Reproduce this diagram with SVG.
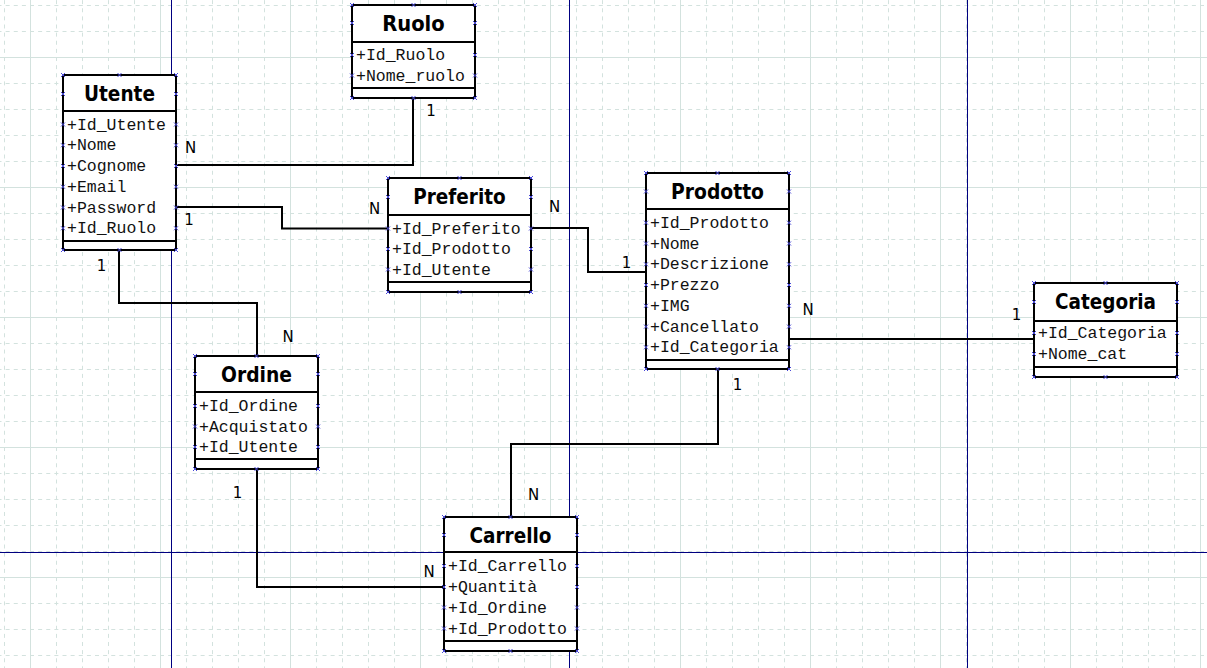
<svg xmlns="http://www.w3.org/2000/svg" width="1207" height="668" viewBox="0 0 1207 668">
<style>
.box{fill:#fff;stroke:#000;stroke-width:2}
.sep{stroke:#000;stroke-width:2;fill:none}
.title{font-family:"DejaVu Sans","Liberation Sans",sans-serif;font-weight:bold;font-size:21px;fill:#000;text-anchor:middle}
.attr{font-family:"Liberation Mono","DejaVu Sans Mono",monospace;font-size:16.5px;fill:#111}
.lbl{font-family:"DejaVu Sans","Liberation Sans",sans-serif;font-size:15px;fill:#000;text-anchor:middle}
.pts{stroke:#4a4ad8;stroke-width:1;fill:none}
.conn{stroke:#000;stroke-width:2;fill:none}
.page{stroke:#000080;stroke-width:1;fill:none}
</style>
<defs>
<pattern id="grid" x="30" y="57" width="130" height="130" patternUnits="userSpaceOnUse">
<path d="M26.5,0V130M52.5,0V130M78.5,0V130M104.5,0V130M0,26.5H130M0,52.5H130M0,78.5H130M0,104.5H130" stroke="#d3e2de" stroke-width="1" stroke-dasharray="4,4.125" fill="none"/>
<path d="M0.5,0V130M0,0.5H130" stroke="#d3e2de" stroke-width="1" fill="none"/>
</pattern>
</defs>
<rect x="0" y="0" width="1207" height="668" fill="#fff"/>
<rect x="0" y="0" width="1207" height="668" fill="url(#grid)"/>
<g id="page-borders">
<path class="page" d="M171.5,0V668M569.5,0V668M967.5,0V668M0,552.5H1207"/>
</g>
<g id="connectors">
<path class="conn" d="M176,165H413V98"/>
<path class="conn" d="M176,207H282V228.5H388"/>
<path class="conn" d="M531,228H588V272H646"/>
<path class="conn" d="M119,250V303H257V356"/>
<path class="conn" d="M257,469V587H444"/>
<path class="conn" d="M718,369V444H511V517"/>
<path class="conn" d="M789,339H1034"/>
<text class="lbl" x="190.5" y="152.5">N</text>
<text class="lbl" x="431" y="115.5">1</text>
<text class="lbl" x="189" y="224.5">1</text>
<text class="lbl" x="374.5" y="214">N</text>
<text class="lbl" x="554.5" y="212">N</text>
<text class="lbl" x="626.5" y="268">1</text>
<text class="lbl" x="101.5" y="270.5">1</text>
<text class="lbl" x="288" y="341.5">N</text>
<text class="lbl" x="237.5" y="497.5">1</text>
<text class="lbl" x="429" y="576.5">N</text>
<text class="lbl" x="737.5" y="390">1</text>
<text class="lbl" x="533.5" y="500">N</text>
<text class="lbl" x="808" y="315">N</text>
<text class="lbl" x="1016.5" y="320">1</text>
</g>
<g id="Utente">
<rect class="box" x="63" y="75" width="113" height="175"/>
<path class="sep" d="M63,111H176M63,241H176"/>
<text class="title" x="119.5" y="101" textLength="71" lengthAdjust="spacingAndGlyphs">Utente</text>
<text class="attr" x="67" y="129.5">+Id_Utente</text>
<text class="attr" x="67" y="150.25">+Nome</text>
<text class="attr" x="67" y="171">+Cognome</text>
<text class="attr" x="67" y="191.75">+Email</text>
<text class="attr" x="67" y="212.5">+Password</text>
<text class="attr" x="67" y="233.25">+Id_Ruolo</text>
<path class="pts" d="M61,73l4,4m0,-4l-4,4M117.5,73l4,4m0,-4l-4,4M174,73l4,4m0,-4l-4,4M61,92l4,4m0,-4l-4,4M174,92l4,4m0,-4l-4,4M61,122.5l4,4m0,-4l-4,4M174,122.5l4,4m0,-4l-4,4M61,143.25l4,4m0,-4l-4,4M174,143.25l4,4m0,-4l-4,4M61,164l4,4m0,-4l-4,4M174,164l4,4m0,-4l-4,4M61,184.75l4,4m0,-4l-4,4M174,184.75l4,4m0,-4l-4,4M61,205.5l4,4m0,-4l-4,4M174,205.5l4,4m0,-4l-4,4M61,226.25l4,4m0,-4l-4,4M174,226.25l4,4m0,-4l-4,4M61,248l4,4m0,-4l-4,4M117.5,248l4,4m0,-4l-4,4M174,248l4,4m0,-4l-4,4"/>
</g>
<g id="Ruolo">
<rect class="box" x="352" y="5" width="123" height="93"/>
<path class="sep" d="M352,42H475M352,88H475"/>
<text class="title" x="413.5" y="31" textLength="62.5" lengthAdjust="spacingAndGlyphs">Ruolo</text>
<text class="attr" x="356" y="60">+Id_Ruolo</text>
<text class="attr" x="356" y="80.5">+Nome_ruolo</text>
<path class="pts" d="M350,3l4,4m0,-4l-4,4M411.5,3l4,4m0,-4l-4,4M473,3l4,4m0,-4l-4,4M350,21l4,4m0,-4l-4,4M473,21l4,4m0,-4l-4,4M350,53l4,4m0,-4l-4,4M473,53l4,4m0,-4l-4,4M350,73.5l4,4m0,-4l-4,4M473,73.5l4,4m0,-4l-4,4M350,96l4,4m0,-4l-4,4M411.5,96l4,4m0,-4l-4,4M473,96l4,4m0,-4l-4,4"/>
</g>
<g id="Preferito">
<rect class="box" x="388" y="178" width="143" height="114"/>
<path class="sep" d="M388,215H531M388,282H531"/>
<text class="title" x="459.5" y="204" textLength="92.5" lengthAdjust="spacingAndGlyphs">Preferito</text>
<text class="attr" x="392" y="233.5">+Id_Preferito</text>
<text class="attr" x="392" y="254">+Id_Prodotto</text>
<text class="attr" x="392" y="274.5">+Id_Utente</text>
<path class="pts" d="M386,176l4,4m0,-4l-4,4M457.5,176l4,4m0,-4l-4,4M529,176l4,4m0,-4l-4,4M386,195l4,4m0,-4l-4,4M529,195l4,4m0,-4l-4,4M386,226.5l4,4m0,-4l-4,4M529,226.5l4,4m0,-4l-4,4M386,247l4,4m0,-4l-4,4M529,247l4,4m0,-4l-4,4M386,267.5l4,4m0,-4l-4,4M529,267.5l4,4m0,-4l-4,4M386,290l4,4m0,-4l-4,4M457.5,290l4,4m0,-4l-4,4M529,290l4,4m0,-4l-4,4"/>
</g>
<g id="Prodotto">
<rect class="box" x="646" y="173" width="143" height="196"/>
<path class="sep" d="M646,209H789M646,360H789"/>
<text class="title" x="717.5" y="199" textLength="93" lengthAdjust="spacingAndGlyphs">Prodotto</text>
<text class="attr" x="650" y="227.7">+Id_Prodotto</text>
<text class="attr" x="650" y="248.5">+Nome</text>
<text class="attr" x="650" y="269.3">+Descrizione</text>
<text class="attr" x="650" y="290">+Prezzo</text>
<text class="attr" x="650" y="310.8">+IMG</text>
<text class="attr" x="650" y="331.6">+Cancellato</text>
<text class="attr" x="650" y="352.3">+Id_Categoria</text>
<path class="pts" d="M644,171l4,4m0,-4l-4,4M715.5,171l4,4m0,-4l-4,4M787,171l4,4m0,-4l-4,4M644,189.5l4,4m0,-4l-4,4M787,189.5l4,4m0,-4l-4,4M644,220.7l4,4m0,-4l-4,4M787,220.7l4,4m0,-4l-4,4M644,241.5l4,4m0,-4l-4,4M787,241.5l4,4m0,-4l-4,4M644,262.3l4,4m0,-4l-4,4M787,262.3l4,4m0,-4l-4,4M644,283l4,4m0,-4l-4,4M787,283l4,4m0,-4l-4,4M644,303.8l4,4m0,-4l-4,4M787,303.8l4,4m0,-4l-4,4M644,324.6l4,4m0,-4l-4,4M787,324.6l4,4m0,-4l-4,4M644,345.3l4,4m0,-4l-4,4M787,345.3l4,4m0,-4l-4,4M644,367l4,4m0,-4l-4,4M715.5,367l4,4m0,-4l-4,4M787,367l4,4m0,-4l-4,4"/>
</g>
<g id="Categoria">
<rect class="box" x="1034" y="283" width="143" height="94"/>
<path class="sep" d="M1034,321H1177M1034,367H1177"/>
<text class="title" x="1105.5" y="309" textLength="101" lengthAdjust="spacingAndGlyphs">Categoria</text>
<text class="attr" x="1038" y="338">+Id_Categoria</text>
<text class="attr" x="1038" y="359">+Nome_cat</text>
<path class="pts" d="M1032,281l4,4m0,-4l-4,4M1103.5,281l4,4m0,-4l-4,4M1175,281l4,4m0,-4l-4,4M1032,300l4,4m0,-4l-4,4M1175,300l4,4m0,-4l-4,4M1032,331l4,4m0,-4l-4,4M1175,331l4,4m0,-4l-4,4M1032,352l4,4m0,-4l-4,4M1175,352l4,4m0,-4l-4,4M1032,375l4,4m0,-4l-4,4M1103.5,375l4,4m0,-4l-4,4M1175,375l4,4m0,-4l-4,4"/>
</g>
<g id="Ordine">
<rect class="box" x="195" y="356" width="123" height="113"/>
<path class="sep" d="M195,392H318M195,459H318"/>
<text class="title" x="256.5" y="382" textLength="71" lengthAdjust="spacingAndGlyphs">Ordine</text>
<text class="attr" x="199" y="411">+Id_Ordine</text>
<text class="attr" x="199" y="431.5">+Acquistato</text>
<text class="attr" x="199" y="452">+Id_Utente</text>
<path class="pts" d="M193,354l4,4m0,-4l-4,4M254.5,354l4,4m0,-4l-4,4M316,354l4,4m0,-4l-4,4M193,372l4,4m0,-4l-4,4M316,372l4,4m0,-4l-4,4M193,404l4,4m0,-4l-4,4M316,404l4,4m0,-4l-4,4M193,424.5l4,4m0,-4l-4,4M316,424.5l4,4m0,-4l-4,4M193,445l4,4m0,-4l-4,4M316,445l4,4m0,-4l-4,4M193,467l4,4m0,-4l-4,4M254.5,467l4,4m0,-4l-4,4M316,467l4,4m0,-4l-4,4"/>
</g>
<g id="Carrello">
<rect class="box" x="444" y="517" width="133" height="134"/>
<path class="sep" d="M444,552H577M444,641H577"/>
<text class="title" x="510.5" y="543" textLength="82" lengthAdjust="spacingAndGlyphs">Carrello</text>
<text class="attr" x="448" y="571">+Id_Carrello</text>
<text class="attr" x="448" y="592">+Quantità</text>
<text class="attr" x="448" y="612.5">+Id_Ordine</text>
<text class="attr" x="448" y="633.5">+Id_Prodotto</text>
<path class="pts" d="M442,515l4,4m0,-4l-4,4M508.5,515l4,4m0,-4l-4,4M575,515l4,4m0,-4l-4,4M442,533l4,4m0,-4l-4,4M575,533l4,4m0,-4l-4,4M442,564l4,4m0,-4l-4,4M575,564l4,4m0,-4l-4,4M442,585l4,4m0,-4l-4,4M575,585l4,4m0,-4l-4,4M442,605.5l4,4m0,-4l-4,4M575,605.5l4,4m0,-4l-4,4M442,626.5l4,4m0,-4l-4,4M575,626.5l4,4m0,-4l-4,4M442,649l4,4m0,-4l-4,4M508.5,649l4,4m0,-4l-4,4M575,649l4,4m0,-4l-4,4"/>
</g>
</svg>
